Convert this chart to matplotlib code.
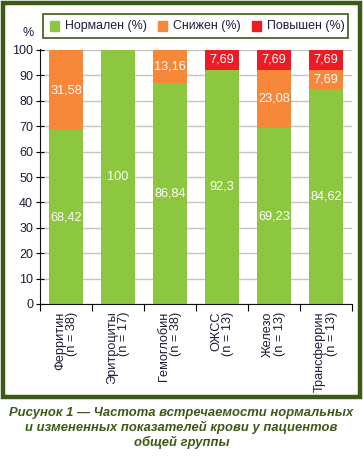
import matplotlib
matplotlib.use("Agg")
import matplotlib.pyplot as plt
from matplotlib.patches import Rectangle
import numpy as np

categories = ["Ферритин\n(n = 38)", "Эритроциты\n(n = 17)", "Гемоглобин\n(n = 38)",
              "ОЖСС\n(n = 13)", "Железо\n(n = 13)", "Трансферрин\n(n = 13)"]
normal = [68.42, 100, 86.84, 92.3, 69.23, 84.62]
low = [31.58, 0, 13.16, 0, 23.08, 7.69]
high = [0, 0, 0, 7.69, 7.69, 7.69]
series_names = ["Нормален (%)", "Снижен (%)", "Повышен (%)"]
yticks = [0, 10, 20, 30, 40, 50, 60, 70, 80, 90, 100]

GREEN = "#8dc63f"
ORANGE = "#f7883a"
RED = "#ed1c24"
FRAME = "#3b5a16"
TXT = "#1c1c3c"
colors = [GREEN, ORANGE, RED]

plt.rcParams['font.family'] = ['Liberation Sans', 'DejaVu Sans']

W, H = 363, 459
fig = plt.figure(figsize=(W / 100, H / 100), dpi=100)

def fx(px):
    return px / W

def fy(py):
    return 1 - py / H

# outer frame
fig.patches.append(Rectangle((fx(3), fy(397)), 357 / W, 394 / H, transform=fig.transFigure,
                             fill=False, edgecolor=FRAME, linewidth=3.2))

ax = fig.add_axes([fx(40), fy(304), 312 / W, 254 / H])
x = np.arange(len(categories))
w = 0.67
n = np.array(normal); l = np.array(low); h = np.array(high)
ax.bar(x, n, w, color=GREEN, zorder=2)
ax.bar(x, l, w, bottom=n, color=ORANGE, zorder=2)
ax.bar(x, h, w, bottom=n + l, color=RED, zorder=2)

def fmt(v):
    s = ("%.2f" % v).rstrip("0").rstrip(".")
    return s.replace(".", ",")

for i in range(len(categories)):
    for vals, base in ((n, 0), (l, n), (h, n + l)):
        v = vals[i]
        if v > 0:
            b = base if np.isscalar(base) else base[i]
            ax.text(x[i], b + v / 2, fmt(v), ha="center", va="center", color="white",
                    fontsize=9.2, zorder=3)

ax.set_xlim(-0.5, len(categories) - 0.5)
ax.set_ylim(0, 100)
ax.set_yticks(yticks)
ax.yaxis.grid(True, color="#c4c4c4", linewidth=1.0, zorder=0)
ax.set_axisbelow(True)
for s in ("top", "right"):
    ax.spines[s].set_visible(False)
ax.spines["left"].set_bounds(0, 100.5)
ax.spines["left"].set_color("#111111")
ax.spines["bottom"].set_color("#111111")
ax.tick_params(axis="y", length=6, direction="inout", labelsize=9, labelcolor=TXT, pad=2)
ax.set_xticks(np.arange(len(categories) + 1) - 0.5, minor=False)
ax.set_xticklabels([])
ax.tick_params(axis="x", length=5, direction="out")
for i, c in enumerate(categories):
    ax.text(x[i], -3.0, c, rotation=90, ha="center", va="top", multialignment="right",
            fontsize=9.2, color=TXT, linespacing=1.0)

fig.text(fx(28), fy(33), "%", ha="center", va="center", fontsize=9, color=TXT)

# legend (manual, to match the reference's column positions)
fig.patches.append(Rectangle((fx(43), fy(38)), 305 / W, 24 / H, transform=fig.transFigure,
                             fill=False, edgecolor=FRAME, linewidth=1.2))
marker_x = [50, 158, 252]
for mx, col, name in zip(marker_x, colors, series_names):
    fig.patches.append(Rectangle((fx(mx), fy(30.5)), 9 / W, 9 / H, transform=fig.transFigure,
                                 color=col))
    fig.text(fx(mx + 15), fy(26.5), name, ha="left", va="center", fontsize=8.9, color=TXT)

caption = ("Рисунок 1 — Частота встречаемости нормальных\n"
           "и измененных показателей крови у пациентов\n"
           "общей группы")
fig.text(0.5, fy(428), caption, ha="center", va="center", fontsize=9.4,
         fontweight="bold", fontstyle="italic", color=FRAME, linespacing=1.15)

fig.savefig("out.png", dpi=100)
